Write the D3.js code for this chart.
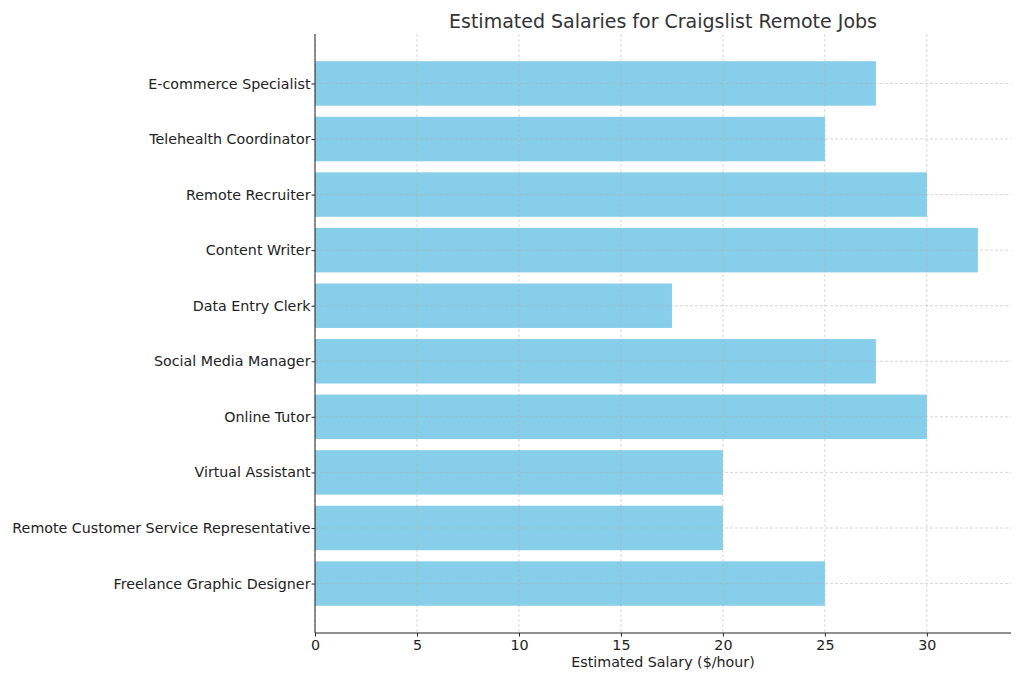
<!DOCTYPE html>
<html><head><meta charset="utf-8">
<script src="https://cdn.jsdelivr.net/npm/d3@7"></script>
<style>body{margin:0;background:#fff;} text{font-family:"DejaVu Sans",sans-serif;}</style>
</head><body>
<svg id="c" width="1024" height="683"></svg>
<script>
const jobs = ["Freelance Graphic Designer","Remote Customer Service Representative","Virtual Assistant","Online Tutor","Social Media Manager","Data Entry Clerk","Content Writer","Remote Recruiter","Telehealth Coordinator","E-commerce Specialist"];
const salaries = [25, 20, 20, 30, 27.5, 17.5, 32.5, 30, 25, 27.5];
const xTicks = [0,5,10,15,20,25,30];
const title = "Estimated Salaries for Craigslist Remote Jobs";
const xLabel = "Estimated Salary ($/hour)";

const svg = d3.select("#c");
const L=315, R=1011, T=34, B=633;
const maxV = d3.max(salaries);
const x = d3.scaleLinear().domain([0, maxV*1.05]).range([L,R]);
const n = jobs.length;
const pad = (n-1+0.8)*0.05;
const y = d3.scaleLinear().domain([-0.4-pad, n-1+0.4+pad]).range([B,T]);
const bh = y(0)-y(0.8);

// bars
svg.append("g").selectAll("rect").data(salaries).join("rect")
  .attr("x", x(0)).attr("y", (d,i)=>y(i+0.4))
  .attr("width", d=>x(d)-x(0)).attr("height", bh)
  .attr("fill","#87CEEB");

// grid
const grid = svg.append("g").attr("stroke","#b0b0b0").attr("stroke-width",0.8).attr("stroke-dasharray","3,2").attr("opacity",0.6);
xTicks.forEach(t=>grid.append("line").attr("x1",x(t)).attr("x2",x(t)).attr("y1",T).attr("y2",B));
jobs.forEach((j,i)=>grid.append("line").attr("x1",L).attr("x2",R).attr("y1",y(i)).attr("y2",y(i)));

// x axis
const xa = svg.append("g").attr("transform",`translate(0,${B})`)
  .call(d3.axisBottom(x).tickValues(xTicks).tickSize(3.5).tickPadding(3).tickFormat(d3.format("d")));
xa.select(".domain").attr("d",`M${L},0H${R}`).attr("stroke","#222").attr("stroke-width",1);
xa.selectAll(".tick line").attr("stroke","#222");
xa.selectAll("text").attr("font-size",14.25).attr("fill","#222").style("font-family","DejaVu Sans");

// y axis
const ya = svg.append("g").attr("transform",`translate(${L},0)`)
  .call(d3.axisLeft(y).tickValues(d3.range(n)).tickSize(3.5).tickPadding(1).tickFormat(i=>jobs[i]));
ya.select(".domain").attr("d",`M0,${T}V${B}`).attr("stroke","#222").attr("stroke-width",1);
ya.selectAll(".tick line").attr("stroke","#222");
ya.selectAll("text").attr("font-size",14.25).attr("fill","#222").style("font-family","DejaVu Sans");

svg.append("text").attr("x",(L+R)/2).attr("y",28).attr("text-anchor","middle")
  .attr("font-size",19).attr("fill","#333").text(title);
svg.append("text").attr("x",(L+R)/2).attr("y",667).attr("text-anchor","middle")
  .attr("font-size",14.25).attr("fill","#222").text(xLabel);
</script>
</body></html>
